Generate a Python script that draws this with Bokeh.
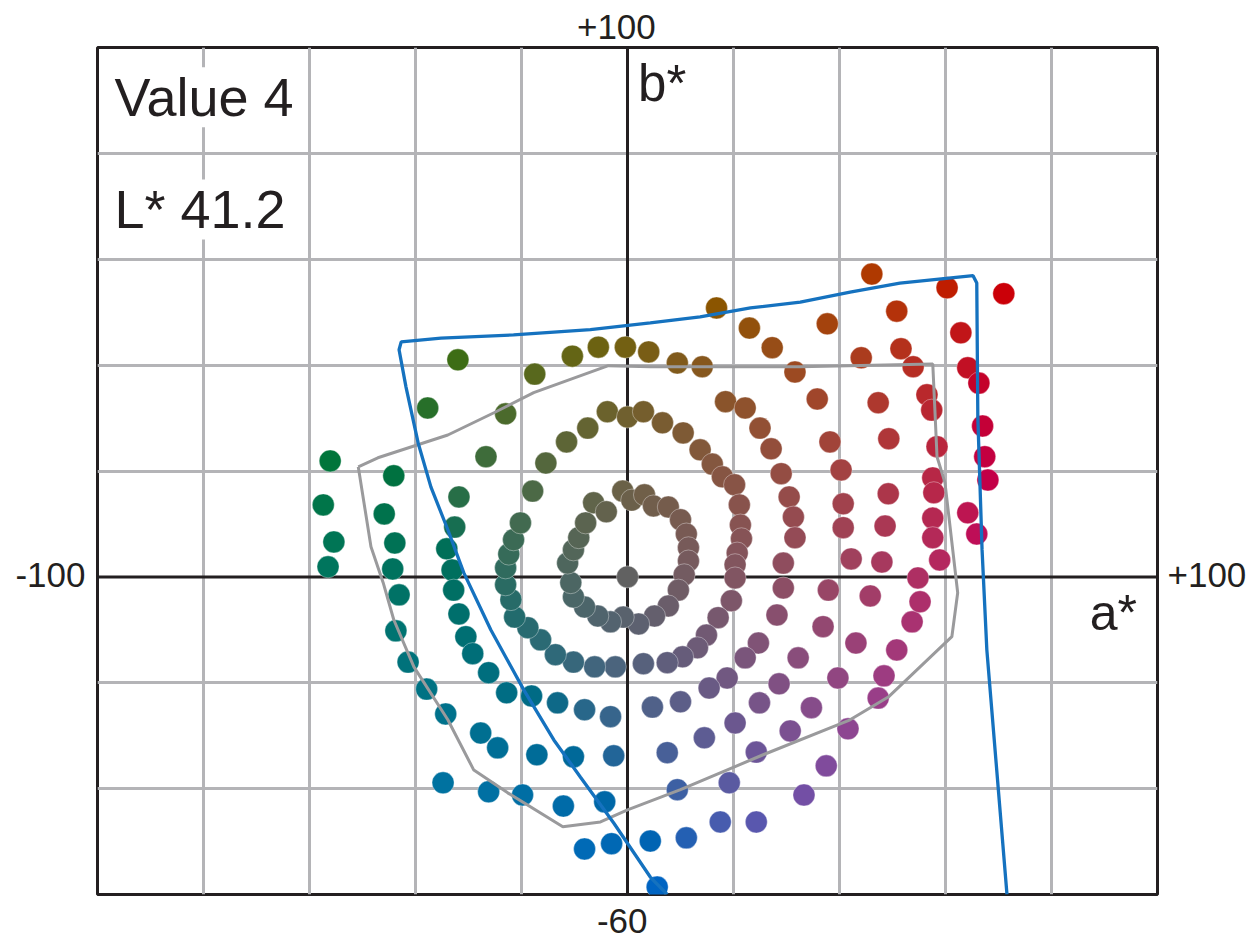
from bokeh.plotting import figure
from bokeh.models import (Range1d, Grid, FixedTicker, Span, Label, ColumnDataSource, LinearAxis,
                          CustomJSTickFormatter)
from bokeh.embed import file_html
from bokeh.resources import INLINE

L_STAR = 41.2

# chroma ring 2 (inner)
inner_a = [-6.4, -4.0, -0.9, 0.8, 3.2, 4.9, 7.7, 10.0, 11.1, 11.5, 11.5, 10.7, 9.6, 7.7, 5.1, 2.1,
           -0.8, -3.2, -5.6, -8.1, -10.2, -10.7, -11.3, -10.2, -9.2, -7.9]
inner_b = [14.0, 12.3, 16.2, 14.5, 15.5, 13.4, 13.2, 10.8, 8.1, 5.5, 3.0, 0.4, -2.5, -5.5, -7.4, -8.9,
           -7.6, -8.5, -7.4, -5.7, -3.8, -1.1, 2.6, 5.1, 7.4, 10.2]

# chroma ring 4
ring4_a = [-3.8, 0.0, 3.0, 6.6, 10.5, 13.7, 16.0, 17.9, 20.2, 21.1, 21.3, 21.5, 20.7, 20.3, 20.3, 19.6,
           17.1, 14.9, 13.2, 10.4, 7.5, 3.0, -2.3, -6.2, -10.2, -13.6, -16.4, -18.8, -21.3, -22.0,
           -23.0, -23.0, -22.4, -21.5, -20.2, -17.9, -15.4, -11.5, -7.5]
ring4_b = [31.2, 30.2, 31.2, 29.1, 27.2, 24.0, 21.3, 18.9, 17.4, 13.6, 9.8, 7.2, 4.5, 2.3, -0.2, -4.5,
           -7.7, -11.0, -13.4, -15.1, -16.2, -16.4, -17.0, -17.0, -16.1, -14.7, -11.9, -9.6, -7.6, -4.3,
           -1.5, 1.7, 4.3, 7.0, 10.2, 16.2, 21.5, 25.5, 28.1]

# higher chroma samples
outer_a = [-32.0, -37.7, -56.1, -57.4, -55.4, -56.5, -44.1, -45.9, -43.9, -44.3, -43.1, -43.7, -41.4,
           -37.9, -34.3, -26.7, -23.0, -17.5, -31.8, -32.6, -34.1, -33.1, -32.8, -31.8, -30.5, -29.2,
           -26.2, -27.7, -24.5, -34.8, -26.2, -19.8, -12.1, -4.3, -8.1, -3.0, 5.6, 4.3, -17.1, -10.2,
           -2.6, -22.8, -18.1, -13.2, -8.1, -3.2,
           -10.4, -5.5, -0.4, 4.0, 9.4, 14.1, 16.8, 23.0, 27.3, 31.6, 37.7, 35.8, 38.2, 40.3, 40.7,
           40.7, 42.2, 18.5, 22.2, 25.0, 27.1, 29.0, 30.5, 31.3, 31.6, 29.4, 29.4, 28.2, 24.7, 22.2,
           18.8, 15.4, 10.0, 4.7,
           7.5, 11.1, 17.5, 24.3, 33.3, 37.5, 41.6, 47.3, 48.4, 50.8, 53.7, 55.2, 54.8, 9.4, 19.2,
           24.3, 30.7, 34.7, 39.7, 43.1, 45.8, 37.9, 36.9, 32.2, 28.6, 24.9, 20.3, 14.5,
           46.1, 60.3, 71.0, 50.8, 62.9, 51.6, 44.1, 53.9, 64.2, 66.3, 56.5, 57.4, 47.3, 49.3, 67.0,
           58.4, 67.4, 68.0, 57.6, 57.8, 49.2, 64.2, 65.9, 57.6, 57.6, 58.9, 48.6, 48.0]
outer_b = [41.0, 31.9, 21.9, 13.6, 6.6, 1.9, 19.1, 11.9, 6.4, 1.5, -3.4, -10.2, -16.1,
           -21.2, -25.9, 22.7, 30.8, 38.3, 15.1, 9.4, 5.3, 1.3, -2.5, -7.0, -11.3, -14.5,
           -18.1, -29.5, -32.3, -38.9, -40.6, -41.2, -43.3, -42.5, -51.4, -50.4, -58.6, -49.9, -33.6, -34.0,
           -33.8, -21.9, -22.5, -23.8, -25.1, -26.4,
           41.7, 43.4, 43.4, 42.5, 40.4, 39.7, 50.8, 47.0, 43.3, 38.7, 47.8, 33.6, 25.5, 20.2, 13.8,
           9.3, 3.4, 33.1, 31.9, 28.1, 24.2, 19.5, 15.1, 11.3, 7.4, 2.6, -2.1, -7.2, -12.5, -15.3,
           -19.1, -21.0, -23.6, -24.6,
           -33.2, -49.3, -46.3, -46.3, -41.2, -35.7, -28.7, -22.9, -18.7, -13.8, -8.5, -4.7, -0.2, -40.2, -38.9,
           -33.1, -29.1, -24.7, -19.1, -12.5, -3.6, -2.5, -9.4, -15.3, -20.2, -23.8, -27.6, -30.4,
           57.2, 54.6, 53.5, 50.2, 46.1, 43.1, 41.4, 39.7, 39.5, 36.6, 34.4, 31.5, 32.9, 26.1, 28.5,
           24.6, 22.7, 18.3, 18.7, 15.9, 15.7, 12.1, 8.1, 11.1, 7.4, 3.2, 9.6, 2.8]

# gamut outlines
blue_a = [7.5, 4.3, -2.6, -8.9, -13.9, -19.6, -25.8, -30.9, -33.9, -37.1, -39.5, -41.8, -43.1, -42.7,
          -35.2, -21.5, -7.0, 4.3, 13.7, 23.2, 32.6, 42.0, 51.4, 65.2, 65.9, 66.1, 66.9, 67.8, 71.6]
blue_b = [-60.0, -56.7, -46.5, -37.8, -30.8, -21.3, -10.0, 0.8, 8.9, 17.0, 25.3, 35.9, 42.9, 44.4,
          45.1, 45.7, 46.7, 48.0, 49.1, 50.8, 51.9, 53.8, 55.5, 56.9, 55.5, 30.2, 5.1, -13.8, -60.0]
gray_a = [-50.8, -47.1, -33.9, -25.2, -17.7, -3.6, 4.3, 32.6, 57.6, 58.0, 58.4, 59.9, 62.3, 61.2,
          49.2, 42.0, 25.6, 10.0, 0.0, -5.1, -12.2, -22.6, -29.0, -33.9, -40.3, -44.1, -46.1, -48.4, -50.8]
gray_b = [20.8, 22.5, 26.8, 31.0, 34.8, 39.9, 39.7, 39.7, 40.2, 31.5, 22.7, 17.8, -3.0, -11.3,
          -22.7, -27.0, -33.6, -40.2, -44.0, -46.3, -47.2, -40.8, -36.5, -27.0, -17.0, -8.1, -1.1, 5.7, 20.8]

grid_ticks = [-80, -60, -40, -20, 20, 40, 60, 80]
range_labels = {"top": "+100", "bottom": "-60", "left": "-100", "right": "+100"}


def lab_to_hex(L, a, b):
    fy = (L + 16) / 116
    fx = fy + a / 500
    fz = fy - b / 200

    def finv(t):
        return t ** 3 if t > 6 / 29 else 3 * (6 / 29) ** 2 * (t - 4 / 29)

    X = 0.95047 * finv(fx)
    Y = finv(fy)
    Z = 1.08883 * finv(fz)
    lin = [3.2406 * X - 1.5372 * Y - 0.4986 * Z,
           -0.9689 * X + 1.8758 * Y + 0.0415 * Z,
           0.0557 * X - 0.2040 * Y + 1.0570 * Z]
    out = []
    for c in lin:
        c = min(max(c, 0.0), 1.0)
        c = 1.055 * c ** (1 / 2.4) - 0.055 if c > 0.0031308 else 12.92 * c
        out.append(int(round(min(max(c, 0), 1) * 255)))
    return "#%02x%02x%02x" % tuple(out)


all_a = [0.0] + inner_a + ring4_a + outer_a
all_b = [0.0] + inner_b + ring4_b + outer_b
colors = [lab_to_hex(L_STAR, a, b) for a, b in zip(all_a, all_b)]

FONT = "Liberation Sans"
TXT = "#231f20"

p = figure(frame_width=1060, frame_height=847, x_range=Range1d(-100, 100), y_range=Range1d(-60, 100),
           x_axis_location=None, y_axis_location=None, toolbar_location=None,
           output_backend="svg", min_border_left=97, min_border_right=97,
           min_border_top=47, min_border_bottom=46)
p.outline_line_color = TXT
p.outline_line_width = 3
p.background_fill_color = "white"
p.border_fill_color = "white"
# drop the default grids that figure() creates
for g in list(p.grid):
    g.visible = False


def edge_axis(tick, text, standoff):
    ax = LinearAxis(ticker=FixedTicker(ticks=[tick]),
                    formatter=CustomJSTickFormatter(code="return '%s';" % text),
                    axis_line_color=None, major_tick_line_color=None, minor_tick_line_color=None,
                    major_tick_in=0, major_tick_out=0, minor_tick_in=0, minor_tick_out=0,
                    major_label_standoff=standoff, major_label_text_font=FONT,
                    major_label_text_font_size="35px", major_label_text_color=TXT)
    return ax


p.add_layout(edge_axis(-2.1, range_labels["top"], 9), "above")
p.add_layout(edge_axis(-1.0, range_labels["bottom"], 14), "below")
left_ax = edge_axis(0.3, range_labels["left"], 12)
left_ax.major_label_orientation = "horizontal"
p.add_layout(left_ax, "left")
right_ax = edge_axis(0.3, range_labels["right"], 10)
right_ax.major_label_orientation = "horizontal"
p.add_layout(right_ax, "right")

for dim in (0, 1):
    g = Grid(dimension=dim, ticker=FixedTicker(ticks=grid_ticks), grid_line_color="#b4b4b7",
             grid_line_width=3)
    p.add_layout(g)

for dim in ("height", "width"):
    p.add_layout(Span(location=0, dimension=dim, line_color=TXT, line_width=3, level="underlay"))

src = ColumnDataSource(dict(a=all_a, b=all_b, c=colors))
p.scatter("a", "b", source=src, size=22, fill_color="c", line_color="white", line_width=0.6,
          line_alpha=0.6)

p.line(gray_a, gray_b, line_color="#9a9a9c", line_width=3)
p.line(blue_a, blue_b, line_color="#1572bf", line_width=3.3)

p.add_layout(Label(x=-96.8, y=90.6, text="Value 4", text_font=FONT, text_font_size="54px",
                   text_color=TXT, text_baseline="alphabetic", background_fill_color="white"))
p.add_layout(Label(x=-96.8, y=69.4, text="L* 41.2", text_font=FONT, text_font_size="54px",
                   text_color=TXT, text_baseline="alphabetic", background_fill_color="white"))
p.add_layout(Label(x=2.0, y=93.2, text="b*", text_font=FONT, text_font_size="51px",
                   text_color=TXT, text_baseline="alphabetic"))
p.add_layout(Label(x=87.2, y=-6.8, text="a*", text_font=FONT, text_font_size="50px",
                   text_color=TXT, text_baseline="alphabetic"))

open("out.html", "w").write(file_html(p, INLINE))
